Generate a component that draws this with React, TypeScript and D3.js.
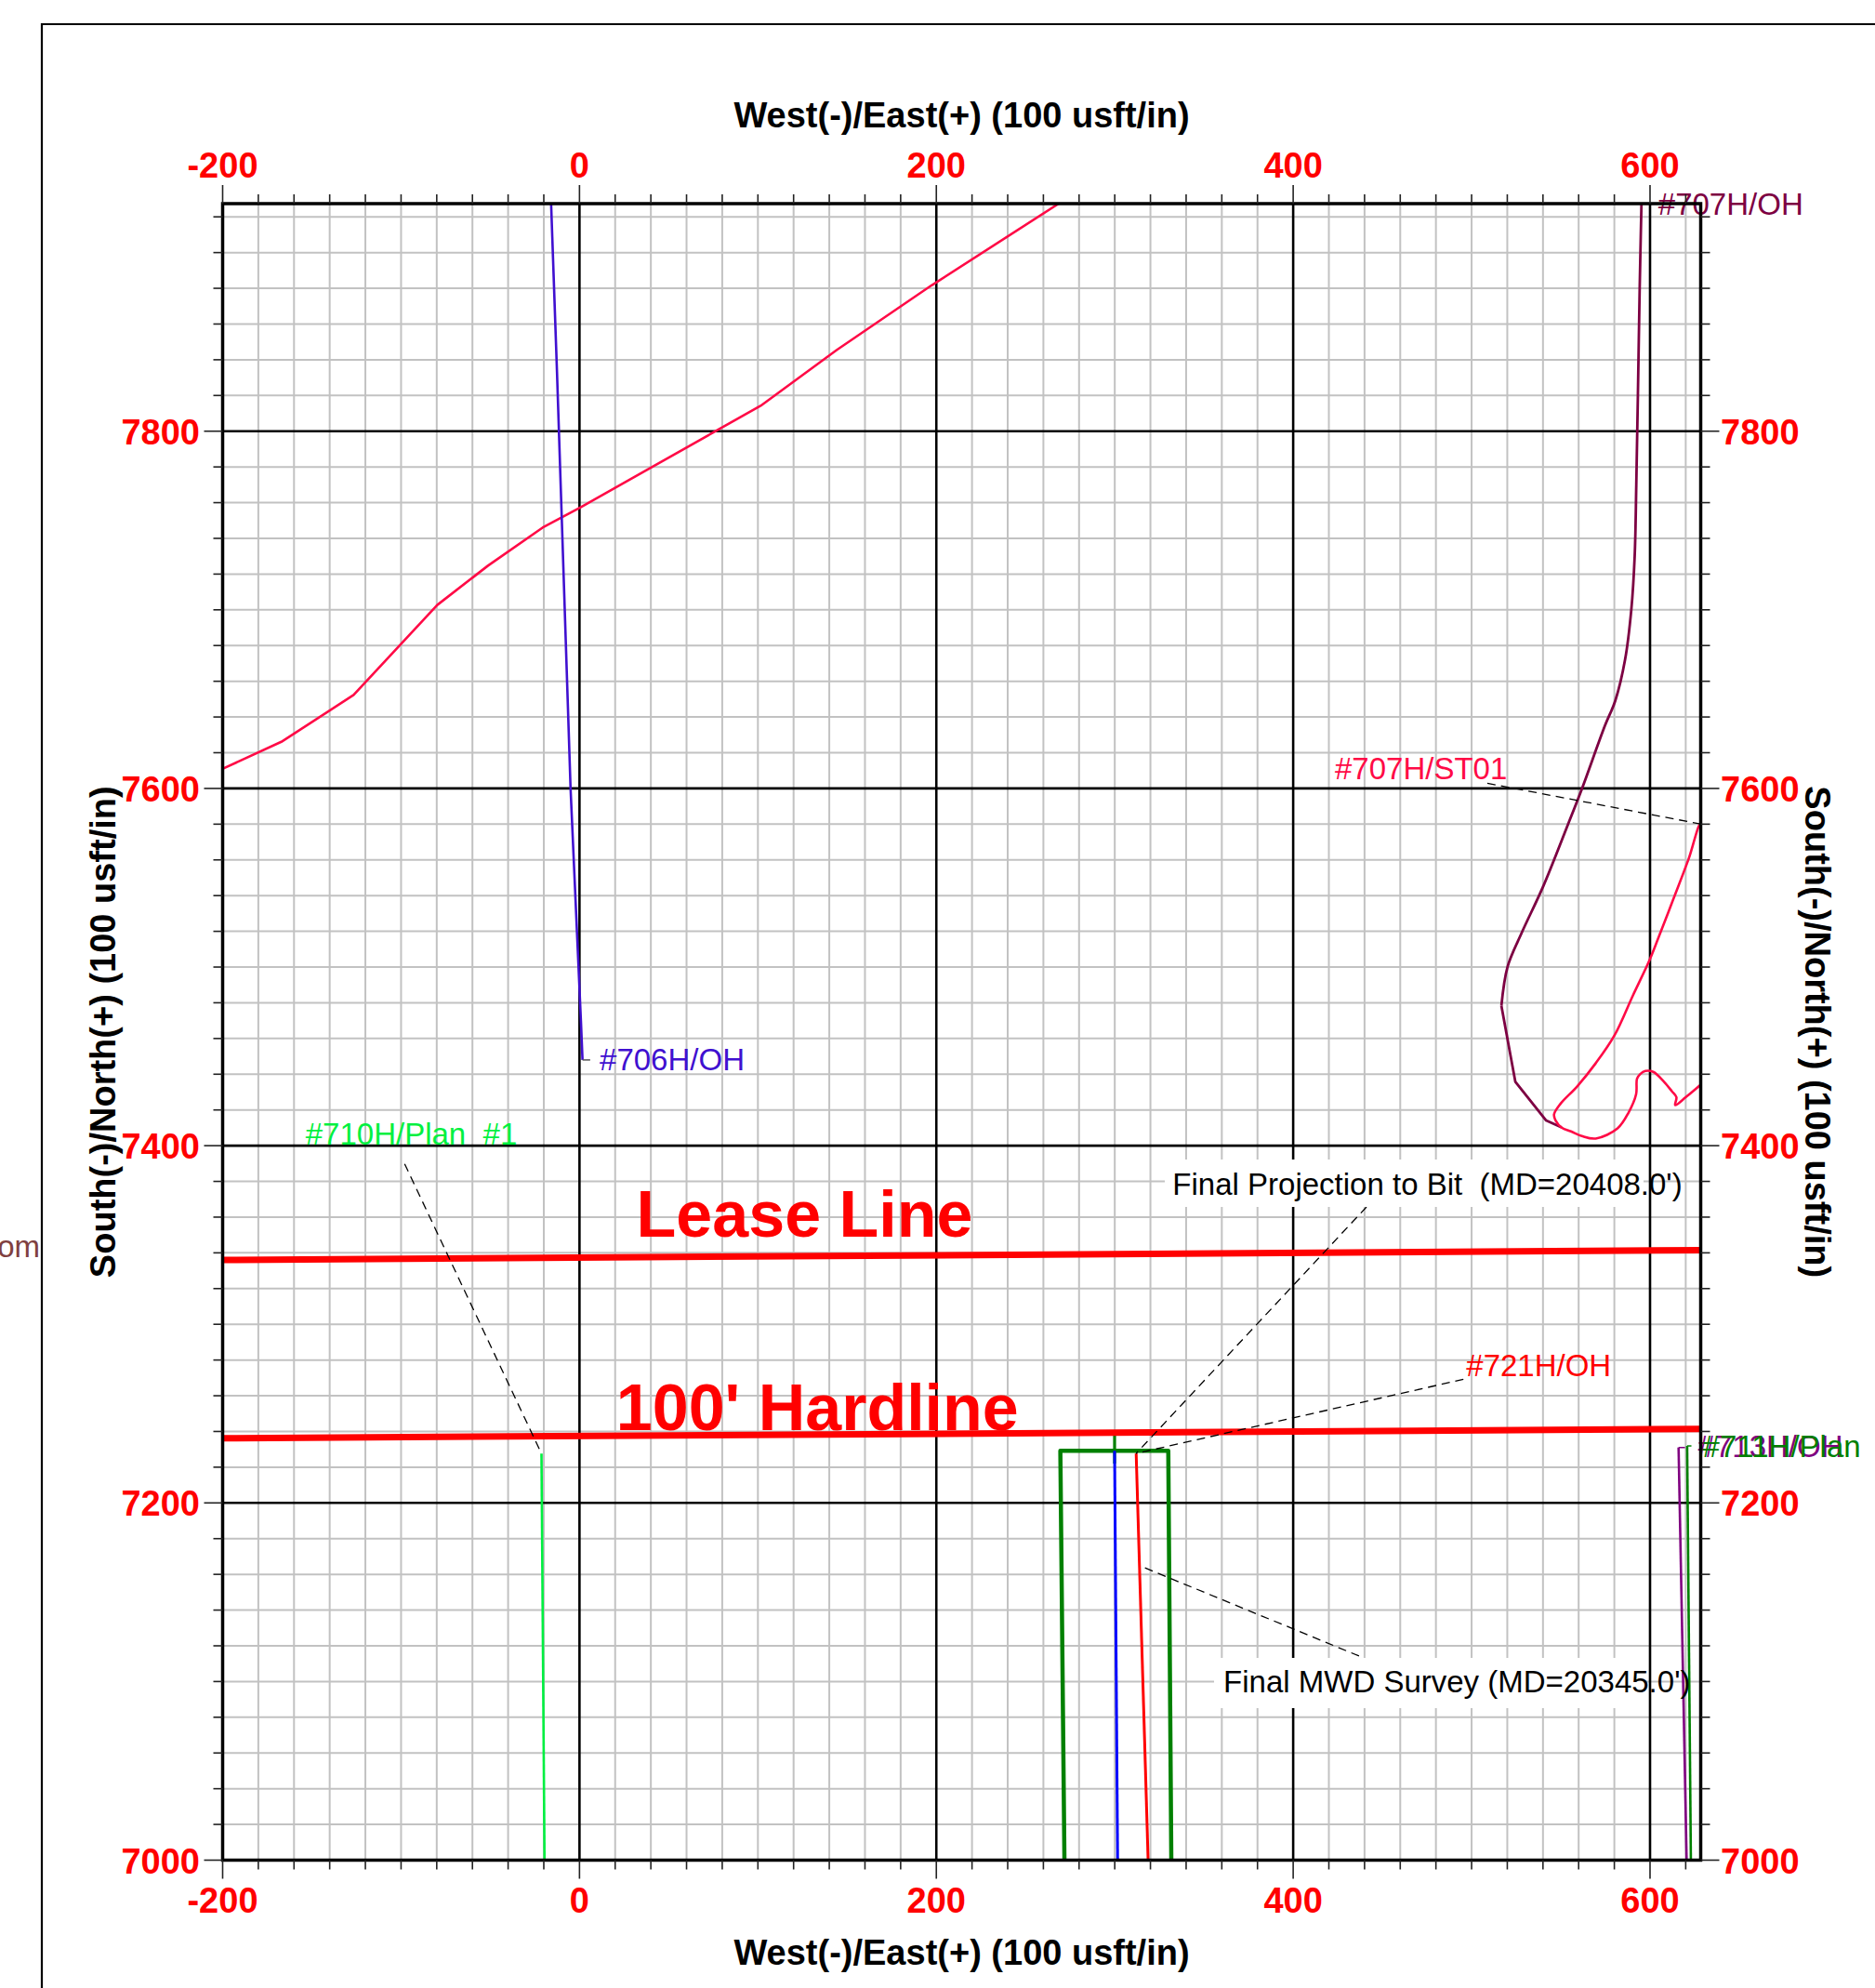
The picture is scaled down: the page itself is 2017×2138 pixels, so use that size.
import React from 'react';
import * as d3 from 'd3';

// ---------- axis setup ----------
const xTickLabels = [-200, 0, 200, 400, 600];
const yTickLabels = [7000, 7200, 7400, 7600, 7800];
const xMajorGrid = [0, 200, 400, 600];
const yMajorGrid = [7200, 7400, 7600, 7800];

// ---------- well paths (East, North) ----------
const well706H_OH: [number, number][] = [
  [-15.9, 7927.4], [-12.6, 7833], [-5, 7600], [0.8, 7470], [1.7, 7448],
];
const well706H_hook: [number, number][] = [[1.7, 7448], [6, 7448]];

const well707H_ST01_upper: [number, number][] = [
  [-201, 7610.5], [-199.8, 7611.1], [-167.1, 7626.1], [-126.6, 7652.3], [-79.7, 7702.7],
  [-51.3, 7724.7], [-20.7, 7746.0], [0.6, 7757.4], [101.5, 7814.2],
  [144.1, 7845.4], [197.4, 7881.7], [269.2, 7927.8], [272, 7930],
];

// curved upper section of #707H/OH
const well707H_OH_upper: [number, number][] = [
  [595.3, 7932], [594.2, 7880], [593.2, 7820], [592.3, 7770], [591.4, 7730], [589.5, 7700],
  [586, 7672], [580.5, 7649], [574.8, 7635.3], [561.8, 7599.7], [554.0, 7579.8],
  [540.1, 7545.1], [528.0, 7519.0], [520.1, 7500.0], [516.7, 7478.3],
];
// straight-segment lower section of #707H/OH
const well707H_OH_lower: [number, number][] = [
  [516.7, 7478.3], [524.5, 7435.8], [541.8, 7414.1], [550.5, 7410.2],
];

const well707H_ST01: [number, number][] = [
  [630, 7576], [628.3, 7580.1], [621.7, 7560.7], [613.1, 7538.1], [604.4, 7515.6],
  [599.5, 7503.4], [590.5, 7484.3], [580.1, 7461.8], [569.6, 7446.2], [559.2, 7433.2],
  [549.7, 7423.3], [546.2, 7417.5], [547.1, 7414.1], [550.5, 7410.1], [555.7, 7408.0],
  [561.8, 7405.4], [569.6, 7404.0], [581.8, 7409.7], [587.9, 7418.4], [592.2, 7428.8],
  [592.7, 7437.5], [594.5, 7440.1], [597.4, 7441.8], [601.8, 7441.3], [607.8, 7435.8],
  [612.2, 7430.5], [614.8, 7427.1], [614.1, 7422.7], [620.0, 7427.1], [628.3, 7434.0],
  [632, 7437],
];

const wellPlanBox: [number, number][] = [
  [271.8, 7000], [269.5, 7229.2], [330.0, 7229.2], [331.7, 7000],
];
const wellGreenStub: [number, number][] = [[299.9, 7238], [299.9, 7222]];
const wellBlue: [number, number][] = [[299.9, 7229.2], [301.6, 7000]];
const well721H_OH: [number, number][] = [[312.0, 7227.7], [318.7, 7000]];
const well710H_Plan1: [number, number][] = [[-21.3, 7227.6], [-19.6, 7000]];
const well713H_OH: [number, number][] = [[616.0, 7231.0], [620.5, 7000]];
const well713H_tick: [number, number][] = [[616.0, 7231.0], [619.6, 7231.0]];
const well711H_Plan: [number, number][] = [[620.8, 7231.9], [622.9, 7000]];
const well711H_tick: [number, number][] = [[620.8, 7231.9], [623.2, 7231.9]];

const leaseLine: [number, number][] = [[-200, 7336.0], [628.4, 7341.5]];
const hardLine: [number, number][] = [[-200, 7236.2], [628.4, 7241.4]];

// ---------- annotation leaders ----------
const leaderST01: [number, number][] = [[508.8, 7602.9], [628.3, 7580.1]];
const leader710H: [number, number][] = [[-98.0, 7389.8], [-21.3, 7227.6]];
const leader721H: [number, number][] = [[495.4, 7269.2], [312.0, 7227.7]];
const leaderProj: [number, number][] = [[441.1, 7365.7], [312.0, 7227.7]];
const leaderMWD: [number, number][] = [[436.9, 7114.3], [314.3, 7164.7]];

const FONT = '"Liberation Sans", Arial, Helvetica, sans-serif';

export default function App() {
  const x = d3.scaleLinear().domain([-200, 628.4]).range([239.5, 1829.5]);
  const y = d3.scaleLinear().domain([7000, 7927.4]).range([2000.5, 219]);
  const line = d3.line<[number, number]>().x(d => x(d[0])).y(d => y(d[1]));
  const curve = d3.line<[number, number]>().x(d => x(d[0])).y(d => y(d[1])).curve(d3.curveCatmullRom.alpha(0.5));

  const [x0, x1] = x.range();
  const [y0, y1] = y.range(); // y0 bottom, y1 top

  const xTicks = d3.range(-200, 628.4, 20);
  const yTicks = d3.range(7000, 7927.4, 20);
  const xMinor = xTicks.filter(v => v % 200 !== 0);
  const yMinor = yTicks.filter(v => v % 200 !== 0);

  const pathEl = (d: [number, number][], color: string, w: number, smooth = false) => (
    <path d={(smooth ? curve(d) : line(d)) || ''} fill="none" stroke={color} strokeWidth={w} strokeLinejoin="round" />
  );
  const leader = (d: [number, number][]) => (
    <path d={line(d) || ''} fill="none" stroke="#000" strokeWidth={1.3} strokeDasharray="9 6" />
  );

  const PINK = '#ff0a46';
  const MAROON = '#7d0042';
  const LBL = 33;

  return (
    <svg width={2017} height={2138} style={{ position: 'absolute', left: 0, top: 0, background: '#fff' }}
      fontFamily={FONT}>
      <defs>
        <clipPath id="plotClip">
          <rect x={x0} y={y1} width={x1 - x0} height={y0 - y1} />
        </clipPath>
      </defs>
      <rect x={0} y={0} width={2017} height={2138} fill="#fff" />

      {/* outer frame */}
      <path d={`M45,2140 L45,26 L2020,26`} fill="none" stroke="#000" strokeWidth={2.2} />

      {/* off-frame text */}
      <text x={43} y={1352} textAnchor="end" fontSize={33} fill="#804040">om</text>

      {/* minor grid */}
      {xMinor.map(v => (
        <line key={'gx' + v} x1={x(v)} x2={x(v)} y1={y1} y2={y0} stroke="#c2c2c2" strokeWidth={2} />
      ))}
      {yMinor.map(v => (
        <line key={'gy' + v} x1={x0} x2={x1} y1={y(v)} y2={y(v)} stroke="#c2c2c2" strokeWidth={2} />
      ))}
      {/* major grid */}
      {xMajorGrid.map(v => (
        <line key={'mx' + v} x1={x(v)} x2={x(v)} y1={y1} y2={y0} stroke="#000" strokeWidth={2.6} />
      ))}
      {yMajorGrid.map(v => (
        <line key={'my' + v} x1={x0} x2={x1} y1={y(v)} y2={y(v)} stroke="#000" strokeWidth={2.6} />
      ))}

      {/* wells */}
      <g clipPath="url(#plotClip)">
        {pathEl(well707H_ST01_upper, PINK, 2.6)}
        {pathEl(well706H_OH, '#4010d0', 2.6)}
        {pathEl(well706H_hook, '#555', 1.5)}
        {pathEl(well707H_OH_upper, MAROON, 2.8, true)}
        {pathEl(well707H_OH_lower, MAROON, 2.8)}
        {pathEl(well707H_ST01, PINK, 2.6, true)}
        {pathEl(well710H_Plan1, '#00f040', 2.6)}
        {pathEl(wellGreenStub, '#008000', 3.2)}
        {pathEl(wellPlanBox, '#008000', 4.5)}
        {pathEl(wellBlue, '#0000ff', 3)}
        {pathEl(well721H_OH, '#ff0000', 3)}
        {pathEl(leaseLine, '#ff0000', 7)}
        {pathEl(hardLine, '#ff0000', 7)}
      </g>
      {pathEl(well713H_OH, '#800080', 2.6)}
      {pathEl(well713H_tick, '#800080', 1.5)}
      {pathEl(well711H_Plan, '#008000', 2.6)}
      {pathEl(well711H_tick, '#008000', 1.5)}

      {/* leaders */}
      {leader(leaderST01)}
      {leader(leader710H)}
      {leader(leader721H)}
      {leader(leaderProj)}
      {leader(leaderMWD)}

      {/* boxed labels */}
      <rect x={1253} y={1247} width={515} height={51} fill="#fff" />
      <text x={x(332.4)} y={y(7372.5)} fontSize={LBL} fill="#000" xmlSpace="preserve" style={{ whiteSpace: 'pre' }}>
        {"Final Projection to Bit  (MD=20408.0')"}
      </text>
      <rect x={1306} y={1783} width={462} height={54} fill="#fff" />
      <text x={x(360.9)} y={y(7094.0)} fontSize={LBL} fill="#000" xmlSpace="preserve" style={{ whiteSpace: 'pre' }}>
        {"Final MWD Survey (MD=20345.0')"}
      </text>

      {/* well labels */}
      <text x={x(11.3)} y={y(7442.4)} fontSize={LBL} fill="#4010d0">#706H/OH</text>
      <text x={x(423.4)} y={y(7605.0)} fontSize={LBL} fill={PINK}>#707H/ST01</text>
      <text x={x(-153.5)} y={y(7400.7)} fontSize={LBL} fill="#00f040" xmlSpace="preserve" style={{ whiteSpace: 'pre' }}>
        {'#710H/Plan  #1'}
      </text>
      <text x={x(497.0)} y={y(7270.9)} fontSize={LBL} fill="#ff0000">#721H/OH</text>
      <text x={x(626.9)} y={y(7225.8)} fontSize={LBL} fill="#800080">#713H/OH</text>
      <text x={x(629.5)} y={y(7225.8)} fontSize={LBL} fill="#008000">#711H/Plan</text>
      <text x={x(604.6)} y={y(7921.1)} fontSize={LBL} fill={MAROON}>#707H/OH</text>

      {/* lease / hardline titles */}
      <text x={684.6} y={1330} fontSize={70} fontWeight="bold" fill="#ff0000">Lease Line</text>
      <text x={662.8} y={1538} fontSize={70} fontWeight="bold" fill="#ff0000">100' Hardline</text>

      {/* plot border */}
      <rect x={x0} y={y1} width={x1 - x0} height={y0 - y1} fill="none" stroke="#000" strokeWidth={3.5} />

      {/* ticks */}
      {xTicks.map(v => {
        const len = v % 200 === 0 ? 20 : 10;
        return (
          <g key={'tx' + v}>
            <line x1={x(v)} x2={x(v)} y1={y1} y2={y1 - len} stroke="#222" strokeWidth={1.6} />
            <line x1={x(v)} x2={x(v)} y1={y0} y2={y0 + len} stroke="#222" strokeWidth={1.6} />
          </g>
        );
      })}
      {yTicks.map(v => {
        const len = v % 200 === 0 ? 20 : 10;
        return (
          <g key={'ty' + v}>
            <line x1={x0} x2={x0 - len} y1={y(v)} y2={y(v)} stroke="#222" strokeWidth={1.6} />
            <line x1={x1} x2={x1 + len} y1={y(v)} y2={y(v)} stroke="#222" strokeWidth={1.6} />
          </g>
        );
      })}

      {/* tick labels */}
      {xTickLabels.map(v => (
        <g key={'lx' + v}>
          <text x={x(v)} y={190.7} textAnchor="middle" fontSize={38} fontWeight="bold" fill="#ff0000">{v}</text>
          <text x={x(v)} y={2057} textAnchor="middle" fontSize={38} fontWeight="bold" fill="#ff0000">{v}</text>
        </g>
      ))}
      {yTickLabels.map(v => (
        <g key={'ly' + v}>
          <text x={215} y={y(v) + 14} textAnchor="end" fontSize={38} fontWeight="bold" fill="#ff0000">{v}</text>
          <text x={1851} y={y(v) + 14} textAnchor="start" fontSize={38} fontWeight="bold" fill="#ff0000">{v}</text>
        </g>
      ))}

      {/* axis titles */}
      <text x={(x0 + x1) / 2} y={136.7} textAnchor="middle" fontSize={38} fontWeight="bold" fill="#000">
        West(-)/East(+) (100 usft/in)
      </text>
      <text x={(x0 + x1) / 2} y={2113} textAnchor="middle" fontSize={38} fontWeight="bold" fill="#000">
        West(-)/East(+) (100 usft/in)
      </text>
      <text transform={`translate(123.5,${(y0 + y1) / 2}) rotate(-90)`} textAnchor="middle" fontSize={38}
        fontWeight="bold" fill="#000">
        South(-)/North(+) (100 usft/in)
      </text>
      <text transform={`translate(1941.5,${(y0 + y1) / 2}) rotate(90)`} textAnchor="middle" fontSize={38}
        fontWeight="bold" fill="#000">
        South(-)/North(+) (100 usft/in)
      </text>
    </svg>
  );
}
